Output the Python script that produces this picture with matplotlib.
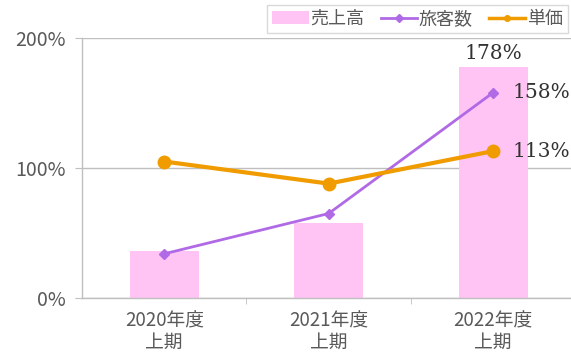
import matplotlib.pyplot as plt
import numpy as np

plt.rcParams['font.family'] = ['Noto Sans CJK JP', 'DejaVu Sans']

periods = ['2020年度\n上期', '2021年度\n上期', '2022年度\n上期']
sales = [36, 58, 178]        # 売上高 (%)
passengers = [34, 65, 158]   # 旅客数 (%)
unit_price = [105, 88, 113]  # 単価 (%)

pink = '#ffc4f4'
purple = '#b06ae6'
orange = '#f09c00'
grey = '#595959'

fig = plt.figure(figsize=(5.71, 3.52), dpi=100)
ax = fig.add_axes([0.1436, 0.1534, 0.864, 0.7386])

x = np.arange(len(periods))
bars = ax.bar(x, sales, width=0.42, color=pink, label='売上高', zorder=2)
l1, = ax.plot(x, passengers, color=purple, lw=2, marker='D', ms=5.5,
              label='旅客数', zorder=3)
l2, = ax.plot(x, unit_price, color=orange, lw=3, marker='o', ms=9,
              label='単価', zorder=4)

ax.set_xlim(-0.5, 2.5)
ax.set_ylim(0, 200)
ax.set_yticks([0, 100, 200])
ax.set_yticklabels([f'{v}%' for v in [0, 100, 200]])
ax.set_xticks(x)
ax.set_xticklabels(periods, linespacing=1.05)
ax.set_xticks([0.5, 1.5], minor=True)
ax.tick_params(axis='x', which='major', length=0, pad=9, labelsize=13.5,
               colors=grey)
ax.tick_params(axis='x', which='minor', length=4, color='#bfbfbf', direction='out')
ax.tick_params(axis='y', length=5, color='#bfbfbf', labelsize=14,
               colors=grey, pad=7)
ax.yaxis.grid(True, color='#bfbfbf', lw=1)
ax.set_axisbelow(True)
for s in ['top', 'right']:
    ax.spines[s].set_visible(False)
for s in ['left', 'bottom']:
    ax.spines[s].set_color('#bfbfbf')
    ax.spines[s].set_linewidth(1)

lab_font = dict(family='DejaVu Serif', fontsize=14.5, color='#333333')
ax.text(x[2], sales[2] + 3, f'{sales[2]}%', ha='center', va='bottom', **lab_font)
ax.text(x[2] + 0.12, passengers[2], f'{passengers[2]}%', ha='left',
        va='center', **lab_font)
ax.text(x[2] + 0.12, unit_price[2], f'{unit_price[2]}%', ha='left',
        va='center', **lab_font)

leg = fig.legend(handles=[bars, l1, l2], loc='lower right',
                 bbox_to_anchor=(0.995, 0.905), ncol=3,
                 frameon=True, fancybox=False, fontsize=13,
                 handlelength=2.0, handletextpad=0.1, columnspacing=0.9,
                 borderpad=0.3, borderaxespad=0)
leg.get_frame().set_edgecolor('#d0d0d0')
for t in leg.get_texts():
    t.set_color(grey)
for h in leg.legend_handles[1:]:
    h.set_markersize(4)
leg.legend_handles[2].set_linewidth(2.5)

fig.savefig('out.png', dpi=100)
